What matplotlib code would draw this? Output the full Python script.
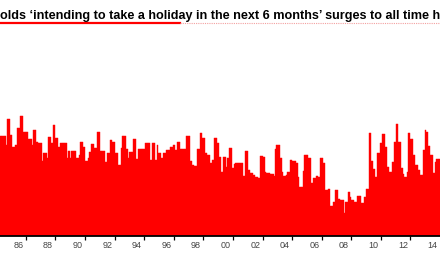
import matplotlib
matplotlib.use("Agg")
import matplotlib.pyplot as plt
from matplotlib.lines import Line2D
import numpy as np

# Monthly series, April 1985 onwards (relative index)
start_year = 1985.25
values = [
    100,100,100,100,100,91,117,117,101,101,
    89,89,91,91,108,108,120,120,120,104,
    104,104,104,97,97,97,91,106,106,94,
    94,93,93,93,75,83,83,83,78,99,
    99,93,93,111,111,98,98,89,89,93,
    93,93,93,93,78,85,85,78,85,85,
    85,85,78,78,81,94,94,89,89,75,
    75,78,84,84,92,92,88,88,88,104,
    104,85,85,85,85,74,74,83,83,96,
    96,94,94,83,83,83,71,71,88,100,
    100,100,87,87,78,84,84,84,97,97,
    77,77,87,87,87,87,87,87,93,93,
    93,93,
    76,93,93,93,76,91,83,83,83,78,
    83,83,83,86,86,86,89,89,91,91,
    86,86,94,94,87,87,87,87,87,100,
    100,100,75,75,71,70,70,70,87,87,
    103,103,98,98,83,83,81,81,73,73,
    76,76,98,98,93,93,79,64,64,79,
    79,69,78,78,88,88,68,68,72,73,
    73,73,73,73,73,60,60,85,85,66,
    66,63,63,61,61,59,59,58,58,80,
    80,79,79,64,63,63,63,62,62,62,
    60,87,91,91,91,78,78,64,60,60,
    61,64,64,
    76,76,75,75,75,73,73,59,49,49,
    49,65,81,81,81,78,78,53,53,58,
    58,60,60,59,59,78,78,73,73,46,
    46,47,47,30,30,34,34,46,46,37,
    37,36,36,36,23,34,34,44,44,39,
    36,36,34,34,34,40,40,40,33,33,
    39,39,47,47,103,103,75,75,67,59,
    59,83,83,93,93,102,102,89,89,69,
    69,64,64,74,74,94,112,112,94,94,
    68,68,62,59,59,64,103,103,97,97,
    81,81,71,71,66,66,61,61,86,86,
    106,104,90,90,81,81,63,63,74,77,
    77,77,
]
label_years = list(range(1986, 2015, 2))
tick_labels = ["86", "88", "90", "92", "94", "96", "98", "00", "02", "04",
               "06", "08", "10", "12", "14"]
title = "olds \u2018intending to take a holiday in the next 6 months\u2019 surges to all time h"

W, H = 440, 267
fig = plt.figure(figsize=(W / 100, H / 100), dpi=100)
fig.patch.set_facecolor("white")

ax = fig.add_axes([0, (H - 236) / H, 1, 206 / H])
x = start_year + (np.arange(len(values)) + 0.5) / 12.0
ax.bar(x, values, width=1 / 12.0, color="#ff0000", edgecolor="#ff0000",
       linewidth=0.3, zorder=2)
ax.set_xlim(start_year, start_year + len(values) / 12.0)
ax.set_ylim(0, 206)

for s in ["top", "right", "left"]:
    ax.spines[s].set_visible(False)
ax.spines["bottom"].set_color("black")
ax.spines["bottom"].set_linewidth(1.3)
ax.spines["bottom"].set_zorder(3)
ax.set_yticks([])

ax.set_xticks([y + 0.5 for y in label_years])
ax.set_xticklabels(tick_labels, fontsize=6.5, color="#444444",
                   family=["Liberation Sans", "DejaVu Sans"])
ax.tick_params(axis="x", which="major", length=0, pad=3.5)
ax.set_xticks(list(range(1987, 2015, 2)), minor=True)
ax.tick_params(axis="x", which="minor", length=3, width=0.9, color="black",
               direction="out")

fig.text(0, 1 - 19 / H, title, fontsize=9.1, fontweight="bold",
         color="black", ha="left", va="baseline",
         family=["Liberation Sans", "DejaVu Sans"])

y_line = 1 - 22.5 / H
fig.add_artist(Line2D([0, 180 / W], [y_line, y_line], color="#ff0000",
                      linewidth=1.6, transform=fig.transFigure))
fig.add_artist(Line2D([180 / W, 1], [y_line, y_line], color="#f3a0a0",
                      linewidth=0.8, linestyle=(0, (1, 1)),
                      transform=fig.transFigure))

fig.savefig("out.png", dpi=100, facecolor="white")
